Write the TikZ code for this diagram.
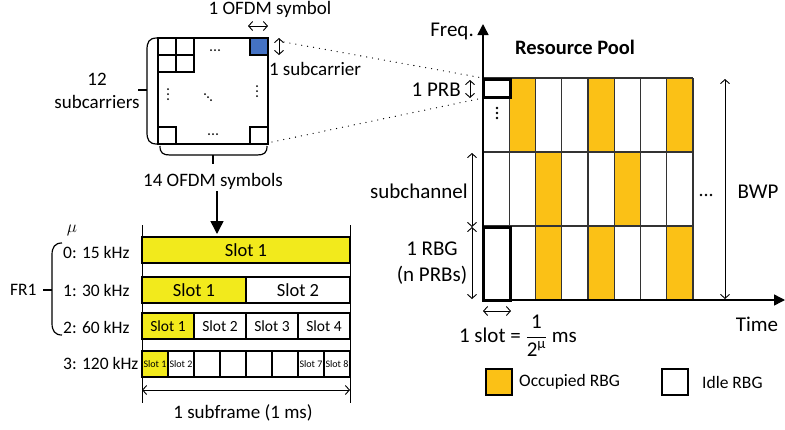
\documentclass[tikz,border=0pt]{standalone}
\usepackage{amsmath}
\usepackage{fontspec}
\setmainfont{Carlito}
\usetikzlibrary{arrows.meta}

\definecolor{slotyellow}{HTML}{F2EA1C}
\definecolor{rbgorange}{HTML}{FBC116}
\definecolor{reblue}{HTML}{4472C4}

\begin{document}
\begin{tikzpicture}[x=1pt,y=-1pt,
    lbl/.style={font=\fontsize{19}{23}\selectfont, inner sep=0pt, align=center},
    biglbl/.style={lbl, font=\fontsize{21}{26}\selectfont},
    smalllbl/.style={lbl, font=\fontsize{17.5}{21}\selectfont},
    slot/.style={draw, line width=1.2pt, minimum height=26, inner sep=0pt, font=\fontsize{18.5}{20}\selectfont},
    midslot/.style={slot, font=\fontsize{15.5}{17}\selectfont},
    tinyslot/.style={slot, font=\fontsize{10}{11}\selectfont},
    dimline/.style={{Straight Barb[length=4,width=9]}-{Straight Barb[length=4,width=9]}, line width=0.9pt},
    gridline/.style={black!80, line width=1.1pt},
    dotline/.style={line width=1.3pt, dash pattern=on 0pt off 6pt, line cap=round}
  ]
  \useasboundingbox (0,0) rectangle (785,429);

  % resource elements of one PRB
  \draw[line width=1.2pt] (158,38) rectangle (268,144);
  \foreach \i in {0,1}{
    \foreach \j in {0,1}{
      \draw[line width=1.2pt] (158+18*\i,38+17*\j) rectangle +(18,17);
    }
  }
  \draw[line width=1.2pt, fill=reblue] (250,38) rectangle (268,55);
  \draw[line width=1.2pt] (158,127) rectangle (176,144);
  \draw[line width=1.2pt] (250,127) rectangle (268,144);
  \foreach \k in {-1,0,1}{
    \fill (215+4*\k,50) circle (1pt);
    \fill (213+4*\k,134) circle (1pt);
    \fill (168,94+5*\k) circle (1pt);
    \fill (257,91+5*\k) circle (1pt);
    \fill (208+3*\k,97+3*\k) circle (1pt);
  }

  % braces
  \draw[line width=1.2pt] (157,38) .. controls (149,38) and (147,42) .. (147,50) -- (147,132)
    .. controls (147,140) and (149,144) .. (157,144);
  \draw[line width=1.2pt] (138,90) -- (147,90);
  \draw[line width=1.2pt] (160,146) .. controls (160,153) and (163,155) .. (170,155) -- (257,155)
    .. controls (264,155) and (267,153) .. (267,146);
  \draw[line width=1.2pt] (213,155) -- (213,164);

  % labels of the PRB
  \node[lbl] (subc12) at (97,91) {12\\subcarriers};
  \node[lbl] (ofdm14) at (213,181) {14 OFDM symbols};
  \node[lbl] (ofdm1) at (270,9) {1 OFDM symbol};
  \node[lbl] (subc1) at (315,69) {1 subcarrier};
  \coordinate (symL) at (248,26);
  \coordinate (symR) at (268,26);
  \draw[dimline] (symL) -- (symR);
  \coordinate (scT) at (279,38);
  \coordinate (scB) at (279,55);
  \draw[dimline] (scT) -- (scB);

  % zoom lines to the PRB in the pool
  \coordinate (reTop) at (284,42);
  \coordinate (reBot) at (272,142);
  \coordinate (prbTop) at (483,78);
  \coordinate (prbBot) at (483,98);
  \draw[dotline] (reTop) -- (prbTop);
  \draw[dotline] (reBot) -- (prbBot);

  % from PRB to slots
  \coordinate (downTop) at (217,191);
  \coordinate (downEnd) at (217,234);
  \draw[line width=1.5pt, -{Triangle[length=13,width=13]}] (downTop) -- (downEnd);

  % slots per numerology
  \draw[line width=0.8pt] (142,225) -- (142,403);
  \draw[line width=0.8pt] (350,225) -- (350,403);
  \node[slot, fill=slotyellow, minimum width=208] (r0s1) at (246,250) {Slot 1};
  \foreach \k/\c in {1/slotyellow,2/white}{
    \node[slot, fill=\c, minimum width=104] (r1s\k) at ({142+104*\k-52},290) {Slot \k};
  }
  \foreach \k/\c in {1/slotyellow,2/white,3/white,4/white}{
    \node[midslot, fill=\c, minimum width=52] (r2s\k) at ({142+52*\k-26},326) {Slot \k};
  }
  \foreach \k/\c/\t in {1/slotyellow/Slot 1,2/white/Slot 2,3/white/,4/white/,5/white/,6/white/,7/white/Slot 7,8/white/Slot 8}{
    \node[tinyslot, fill=\c, minimum width=26] (r3s\k) at ({142+26*\k-13},364) {\t};
  }
  \coordinate (sfL) at (142,390);
  \coordinate (sfR) at (350,390);
  \draw[dimline] (sfL) -- (sfR);
  \node[lbl] (subframe) at (243,413) {1 subframe (1 ms)};

  % numerology labels
  \node[smalllbl] (mu) at (72,230) {$\mu$};
  \node[smalllbl, anchor=west] (mu0) at (63,252) {0: 15 kHz};
  \node[smalllbl, anchor=west] (mu1) at (63,290) {1: 30 kHz};
  \node[smalllbl, anchor=west] (mu2) at (63,327) {2: 60 kHz};
  \node[smalllbl, anchor=west] (mu3) at (63,363) {3: 120 kHz};
  \node[smalllbl, anchor=west] (fr1) at (10,290) {FR1};
  \draw[line width=1.2pt] (62,243) .. controls (55,243) and (52,247) .. (52,255) -- (52,323)
    .. controls (52,331) and (55,335) .. (62,335);
  \draw[line width=1.2pt] (43,290) -- (52,290);

  % resource pool
  \foreach \c/\r in {1/0,4/0,7/0,2/1,5/1,2/2,4/2,7/2}{
    \fill[rbgorange] (483+26.25*\c,78+74*\r) rectangle +(26.25,74);
  }
  \foreach \c in {1,...,8}{
    \draw[gridline] (483+26.25*\c,78) -- (483+26.25*\c,300);
  }
  \foreach \r in {0,1,2}{
    \draw[gridline] (483,78+74*\r) -- (693,78+74*\r);
  }
  \draw[line width=3pt] (483,79) rectangle (510,97);
  \draw[line width=3pt] (483,227) rectangle (510,300);
  \foreach \k in {-1,0,1}{
    \fill (497,113+5*\k) circle (1.3pt);
    \fill (706+5*\k,195) circle (1.3pt);
  }
  \node[lbl, font=\fontsize{20.5}{24}\selectfont\bfseries] (pool) at (575,47) {Resource Pool};

  % axes
  \coordinate (origin) at (483,300);
  \coordinate (freqEnd) at (483,24);
  \coordinate (timeEnd) at (785,300);
  \draw[line width=1.5pt, -{Triangle[length=11,width=11]}] (origin) -- (freqEnd);
  \draw[line width=1.5pt, -{Triangle[length=11,width=11]}] (origin) -- (timeEnd);
  \node[biglbl, anchor=east] (freq) at (474,31) {Freq.};
  \node[biglbl] (time) at (757,324) {Time};

  % dimensions in the pool
  \coordinate (prbT) at (470,80);
  \coordinate (prbB) at (470,98);
  \draw[dimline] (prbT) -- (prbB);
  \node[biglbl, anchor=east] (prb) at (461,90) {1 PRB};
  \coordinate (subT) at (472,153);
  \coordinate (subB) at (472,227);
  \coordinate (rbgB) at (472,299);
  \draw[dimline] (subT) -- (subB);
  \draw[dimline] (subB) -- (rbgB);
  \node[biglbl, anchor=east] (subch) at (468,191) {subchannel};
  \node[biglbl] (rbg) at (432,263) {1 RBG\\(n PRBs)};
  \coordinate (bwpT) at (725,79);
  \coordinate (bwpB) at (725,299);
  \draw[dimline] (bwpT) -- (bwpB);
  \node[biglbl] (bwp) at (758,192) {BWP};
  \coordinate (slotL) at (483,311);
  \coordinate (slotR) at (511,311);
  \draw[dimline] (slotL) -- (slotR);
  \node[biglbl] (slotlen) at (518,336) {1 slot = $\dfrac{\text{1}}{\text{2}^{\text{μ}}}$ ms};

  % legend
  \draw[line width=1.2pt, fill=rbgorange] (486,369) rectangle (512,395);
  \node[smalllbl, anchor=west] (occ) at (519,382) {Occupied RBG};
  \draw[line width=1.2pt, fill=white] (662,369) rectangle (688,395);
  \node[smalllbl, anchor=west] (idle) at (702,382) {Idle RBG};

\end{tikzpicture}
\end{document}
